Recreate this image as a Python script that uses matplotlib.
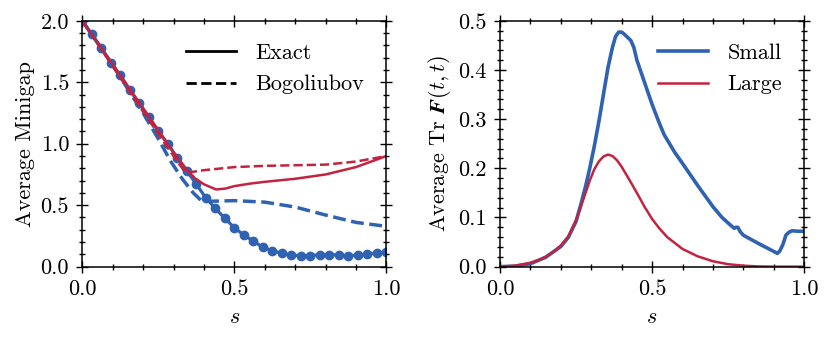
"""Average minigap and average Tr F(t,t) vs s, small vs large."""
import matplotlib
matplotlib.use("Agg")
import matplotlib.pyplot as plt
import numpy as np

plt.rcParams["font.family"] = "serif"
plt.rcParams["font.serif"] = ["cmr10"]
plt.rcParams["mathtext.fontset"] = "cm"
plt.rcParams["axes.formatter.use_mathtext"] = True
plt.rcParams["font.size"] = 16

BLUE = "#2f62b1"
RED = "#c2233f"

# ── Left panel data ───────────────────────────────────────────────────────────

exact_small_s = np.arange(33) / 32
exact_small = [2.0, 1.89, 1.78, 1.66, 1.556, 1.436, 1.328, 1.214, 1.103, 0.997,
               0.886, 0.78, 0.67, 0.56, 0.474, 0.393, 0.317, 0.257, 0.209, 0.157,
               0.13, 0.108, 0.095, 0.089, 0.089, 0.098, 0.098, 0.095, 0.087, 0.095,
               0.103, 0.108, 0.117]

bog_small_s = [0.0, 0.1, 0.2, 0.25, 0.29, 0.33, 0.365, 0.39, 0.42, 0.5, 0.6, 0.7, 0.8, 0.9, 1.0]
bog_small = [2.0, 1.64, 1.25, 1.04, 0.86, 0.71, 0.6, 0.54, 0.532, 0.537, 0.525, 0.485, 0.42, 0.36, 0.328]

exact_large_s = [0.0, 0.1, 0.2, 0.3, 0.34, 0.37, 0.4, 0.44, 0.47, 0.5, 0.55, 0.6, 0.7, 0.8, 0.9, 1.0]
exact_large = [2.0, 1.645, 1.29, 0.93, 0.8, 0.72, 0.67, 0.628, 0.635, 0.655, 0.675, 0.69, 0.715, 0.75, 0.81, 0.9]

bog_large_s = [0.0, 0.1, 0.2, 0.3, 0.337, 0.36, 0.4, 0.5, 0.6, 0.7, 0.8, 0.9, 1.0]
bog_large = [2.0, 1.63, 1.26, 0.9, 0.772, 0.77, 0.785, 0.81, 0.82, 0.825, 0.83, 0.855, 0.9]

# ── Right panel data ──────────────────────────────────────────────────────────

trf_small_s = [0.0, 0.05, 0.1, 0.15, 0.2, 0.225, 0.25, 0.265, 0.28, 0.295, 0.31, 0.325,
               0.34, 0.355, 0.37, 0.38, 0.39, 0.4, 0.41, 0.42, 0.43, 0.44, 0.45, 0.475,
               0.5, 0.525, 0.54, 0.575, 0.6, 0.65, 0.7, 0.73, 0.755, 0.77, 0.775, 0.782,
               0.79, 0.8, 0.85, 0.9, 0.912, 0.92, 0.93, 0.94, 0.95, 0.96, 0.98, 1.0]
trf_small = [0.0, 0.001, 0.006, 0.019, 0.041, 0.06, 0.092, 0.125, 0.16, 0.2, 0.245, 0.295,
             0.35, 0.405, 0.447, 0.468, 0.477, 0.477, 0.472, 0.466, 0.46, 0.446, 0.42, 0.375,
             0.33, 0.29, 0.268, 0.232, 0.21, 0.165, 0.122, 0.1, 0.086, 0.078, 0.08, 0.08,
             0.071, 0.064, 0.047, 0.031, 0.027, 0.032, 0.045, 0.064, 0.07, 0.073, 0.072, 0.072]

trf_large_s = [0.0, 0.05, 0.1, 0.125, 0.15, 0.175, 0.2, 0.225, 0.25, 0.265, 0.28, 0.295,
               0.31, 0.325, 0.34, 0.355, 0.37, 0.385, 0.4, 0.425, 0.45, 0.475, 0.5, 0.525,
               0.55, 0.6, 0.65, 0.7, 0.75, 0.8, 0.85, 0.9, 1.0]
trf_large = [0.0, 0.002, 0.008, 0.013, 0.02, 0.03, 0.043, 0.062, 0.095, 0.12, 0.148, 0.175,
             0.198, 0.214, 0.224, 0.228, 0.225, 0.216, 0.203, 0.177, 0.15, 0.122, 0.097, 0.077,
             0.06, 0.036, 0.021, 0.011, 0.005, 0.002, 0.0005, 0.0, 0.0]


def _style(ax, ymax, ymajor, yminor):
    ax.set_xlim(0, 1)
    ax.set_ylim(0, ymax)
    ax.set_xticks([0, 0.5, 1.0])
    ax.set_xticks(np.arange(0, 1.0001, 0.1), minor=True)
    ax.set_yticks(np.arange(0, ymax + 1e-9, ymajor))
    ax.set_yticks(np.arange(0, ymax + 1e-9, yminor), minor=True)
    ax.yaxis.set_major_formatter(plt.FormatStrFormatter("%.1f"))
    ax.xaxis.set_major_formatter(plt.FormatStrFormatter("%.1f"))
    ax.tick_params(which="both", direction="inout", top=True, right=True, width=1.0)
    ax.tick_params(which="major", length=9, pad=5)
    ax.tick_params(which="minor", length=5)
    for sp in ax.spines.values():
        sp.set_linewidth(1.1)
    ax.set_xlabel("$s$", labelpad=6)


def _legend(ax):
    ax.legend(loc="upper right", frameon=False, handlelength=2.25, handletextpad=0.85,
              borderaxespad=0.6, labelspacing=0.55)


fig = plt.figure(figsize=(8.31, 3.41), dpi=100)
ax1 = fig.add_axes([0.099, 0.218, 0.366, 0.721])
ax2 = fig.add_axes([0.6017, 0.218, 0.366, 0.721])

ax1.plot(exact_small_s, exact_small, "-o", color=BLUE, lw=2.3, ms=6)
ax1.plot(bog_small_s, bog_small, "--", color=BLUE, lw=2.5)
ax1.plot(exact_large_s, exact_large, "-", color=RED, lw=1.8)
ax1.plot(bog_large_s, bog_large, "--", color=RED, lw=1.8)
ax1.plot([], [], "-", color="black", lw=2.0, label="Exact")
ax1.plot([], [], "--", color="black", lw=2.0, label="Bogoliubov")
_style(ax1, 2.0, 0.5, 0.1)
ax1.set_ylabel("Average Minigap", labelpad=4)
_legend(ax1)

ax2.plot(trf_small_s, trf_small, "-", color=BLUE, lw=2.6, label="Small")
ax2.plot(trf_large_s, trf_large, "-", color=RED, lw=1.8, label="Large")
_style(ax2, 0.5, 0.1, 0.02)
ax2.set_ylabel(r"Average Tr $\mathbfit{F}(t,t)$", labelpad=4)
_legend(ax2)

fig.savefig("out.png", dpi=100)
